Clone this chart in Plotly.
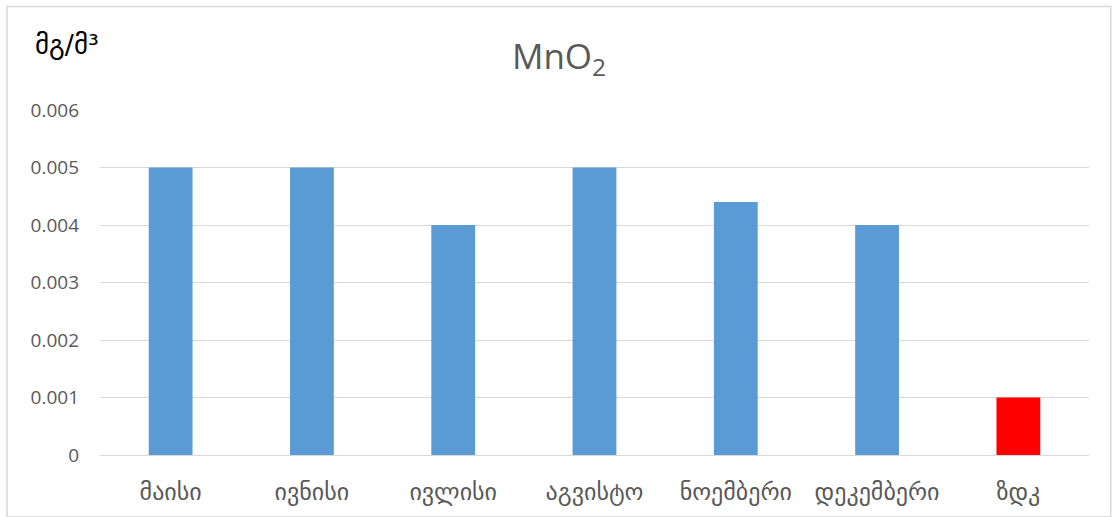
import plotly.graph_objects as go

categories = ["მაისი", "ივნისი", "ივლისი", "აგვისტო", "ნოემბერი", "დეკემბერი", "ზდკ"]
values = [0.005, 0.005, 0.004, 0.005, 0.0044, 0.004, 0.001]
colors = ["#5B9BD5"] * 6 + ["#FF0000"]
y_ticks = [0, 0.001, 0.002, 0.003, 0.004, 0.005, 0.006]
y_tick_labels = ["0", "0.001", "0.002", "0.003", "0.004", "0.005", "0.006"]

FONT = "Open Sans, DejaVu Sans, sans-serif"

fig = go.Figure(go.Bar(
    x=categories, y=values, marker=dict(color=colors, line=dict(width=0)),
    width=0.31,
))

fig.update_layout(
    width=1118, height=517,
    margin=dict(l=100, r=29, t=110, b=62),
    paper_bgcolor="white", plot_bgcolor="white",
    showlegend=False,
    font=dict(family=FONT, color="#595959", size=16),
    title=dict(text="MnO<sub>2</sub>", x=0.5, xanchor="center", y=0.89, yanchor="middle",
               font=dict(size=35, color="#595959", family=FONT)),
    xaxis=dict(showgrid=False, showline=False, ticks="", ticklabelstandoff=20,
               tickfont=dict(size=24, family="DejaVu Sans", color="#595959")),
    yaxis=dict(range=[0, 0.006], tickvals=y_ticks, ticktext=y_tick_labels,
               showgrid=True, gridcolor="#D9D9D9", gridwidth=1, zeroline=True,
               zerolinecolor="#D9D9D9", zerolinewidth=1, showline=False, ticks="",
               ticklabelstandoff=20, tickfont=dict(size=19)),
    shapes=[dict(type="rect", xref="paper", yref="paper", x0=-0.094, x1=1.022, y0=-0.18, y1=1.3,
                 line=dict(color="#D9D9D9", width=1.5), layer="below")],
    annotations=[dict(text="მგ/მ³", xref="paper", yref="paper", x=-0.068, y=1.19, xanchor="left",
                      yanchor="middle", showarrow=False, font=dict(size=27, color="black", family="DejaVu Sans"))],
)

fig.write_html("out.html")
